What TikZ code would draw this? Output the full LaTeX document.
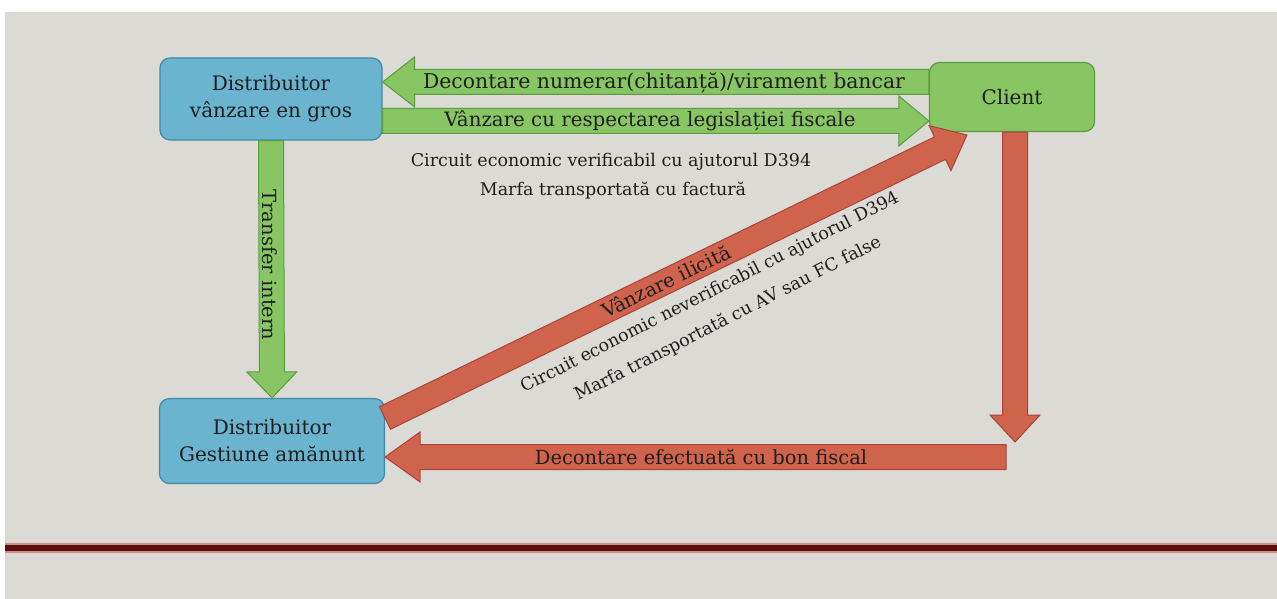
\documentclass[tikz,border=0pt]{standalone}
\usepackage{fontspec}
\setmainfont{DejaVu Serif}
\usetikzlibrary{calc}
\definecolor{bg}{HTML}{DCDAD4}
\definecolor{boxblue}{HTML}{6BB4D0}
\definecolor{boxblueD}{HTML}{3F8AAA}
\definecolor{grn}{HTML}{88C563}
\definecolor{grnD}{HTML}{5C9B3E}
\definecolor{rd}{HTML}{D0634C}
\definecolor{rdD}{HTML}{A8443A}
\definecolor{txt}{HTML}{1E1E1E}
\definecolor{maroon}{HTML}{5A0E10}
\newcommand\fatarrow[4]{%
  \coordinate (fah) at ($(#3)!#4!(#2)$);
  \draw[#1] ($(#2)!12.5pt!90:(#3)$) -- ($(fah)!12.5pt!90:(#3)$) -- ($(fah)!25pt!90:(#3)$) -- (#3) -- ($(fah)!25pt!-90:(#3)$) -- ($(fah)!12.5pt!-90:(#3)$) -- ($(#2)!12.5pt!-90:(#3)$) -- cycle;}
\tikzset{
  box/.style={rounded corners=10pt, line width=1.2pt, align=center, text=txt, font=\fontsize{20}{27}\selectfont, inner sep=0pt},
  bluebox/.style={box, fill=boxblue, draw=boxblueD},
  greenbox/.style={box, fill=grn, draw=grnD},
  garrow/.style={fill=grn, draw=grnD, line width=1pt, line join=miter},
  rarrow/.style={fill=rd, draw=rdD, line width=1pt, line join=miter},
  lbl/.style={text=txt, font=\fontsize{19.5}{22}\selectfont, inner sep=0pt},
  note/.style={text=txt, font=\fontsize{17.5}{20}\selectfont, inner sep=0pt},
}
\begin{document}
\begin{tikzpicture}[x=1pt,y=-1pt]
\useasboundingbox (0,0) rectangle (1277,599);
\fill[white] (0,0) rectangle (1277,599);
\fill[bg] (5,12) rectangle (1277,599);
\fill[rdD!60!white] (5,543) rectangle (1277,553);
\fill[maroon] (5,545) rectangle (1277,551);
% boxes
\node[bluebox, minimum width=222pt, minimum height=82pt] (gros) at (271,99) {Distribuitor\\vânzare en gros};
\node[greenbox, minimum width=165pt, minimum height=69pt] (client) at (1012,97) {Client};
\node[bluebox, minimum width=225pt, minimum height=85pt] (amanunt) at (272,441) {Distribuitor\\Gestiune amănunt};
% coordinates
\coordinate (g1s) at (client.west |- 0,82);
\coordinate (g1e) at (gros.east |- 0,82);
\coordinate (g2s) at (gros.east |- 0,121);
\coordinate (g2e) at (client.west |- 0,121);
\coordinate (g3s) at (gros.south);
\coordinate (g3e) at (amanunt.north);
\coordinate (r1s) at ([xshift=3pt]client.south);
\coordinate (r1e) at (1015,442);
\coordinate (r2s) at (1006,457);
\coordinate (r2e) at (amanunt.east |- 0,457);
\coordinate (r3s) at (385,418);
\coordinate (r3e) at (967,135);
% arrows
\fatarrow{garrow}{g1s}{g1e}{32pt}
\fatarrow{garrow}{g2s}{g2e}{30pt}
\fatarrow{garrow}{g3s}{g3e}{26pt}
\fatarrow{rarrow}{r1s}{r1e}{27pt}
\fatarrow{rarrow}{r2s}{r2e}{35pt}
\fatarrow{rarrow}{r3s}{r3e}{30pt}
% labels
\node[lbl, font=\fontsize{20.4}{22}\selectfont] (t1) at (664,83) {Decontare numerar(chitanță)/virament bancar};
\node[lbl, font=\fontsize{19.8}{22}\selectfont] (t2) at (650,121) {Vânzare cu respectarea legislației fiscale};
\node[note] (t3) at (611,162) {Circuit economic verificabil cu ajutorul D394};
\node[note] (t4) at (613,191) {Marfa transportată cu factură};
\node[lbl, rotate=-90] (t5) at (270,265) {Transfer intern};
\node[lbl, rotate=26] (t6) at (666,281) {Vânzare ilicită};
\node[note, rotate=27] (t7) at (710,293) {Circuit economic neverificabil cu ajutorul D394};
\node[note, rotate=27] (t8) at (728,319) {Marfa transportată cu AV sau FC false};
\node[lbl] (t9) at (701,457) {Decontare efectuată cu bon fiscal};
\end{tikzpicture}
\end{document}
